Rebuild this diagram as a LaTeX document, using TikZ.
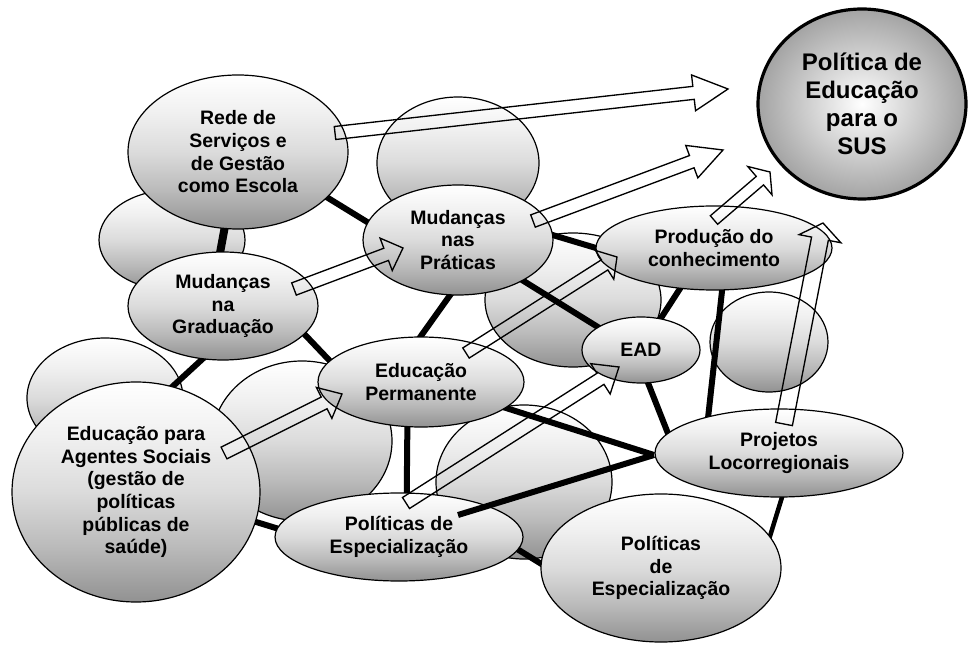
\documentclass[tikz,border=0pt]{standalone}
\usepackage{fontspec}
\setmainfont{Liberation Sans}
\usetikzlibrary{shapes.geometric,calc}
\pgfdeclarelayer{bgl}
\pgfdeclarelayer{lines}
\pgfdeclarelayer{fg}
\pgfsetlayers{bgl,lines,main,fg}
\pgfdeclareverticalshading{bubshade}{100bp}{color(0bp)=(black!43); color(25bp)=(black!43);
  color(37.5bp)=(black!27); color(50bp)=(black!14); color(62.5bp)=(black!6);
  color(75bp)=(white); color(100bp)=(white)}
\tikzset{
  bub/.style 2 args={ellipse, draw=black, line width=0.9pt, inner sep=0pt, outer sep=0pt,
    minimum width=#1*1.5pt, minimum height=#2*1.5pt,
    shade, shading=bubshade,
    align=center, font=\bfseries\fontsize{14.6}{17}\selectfont},
  goal/.style={ellipse, draw=black, line width=2.4pt, inner sep=0pt, outer sep=0pt,
    minimum width=208*0.75pt, minimum height=190*0.75pt,
    inner color=white, outer color=black!36,
    align=center, font=\bfseries\fontsize{18}{21}\selectfont},
  link/.style={line width=4.5pt, black, shorten <=-3pt, shorten >=-3pt},
  barr/.style={draw=black, line width=1pt, line join=miter},
}
\newcommand{\blockarrow}[5]{%
  \coordinate (hb) at ($(#2)!#5!(#1)$);
  \draw[barr] ($(#1)!#3!90:(#2)$) -- ($(hb)!#3!-90:(#1)$) -- ($(hb)!#4!-90:(#1)$) -- (#2)
    -- ($(hb)!#4!90:(#1)$) -- ($(hb)!#3!90:(#1)$) -- ($(#1)!#3!-90:(#2)$) -- cycle;}
\begin{document}
\begin{tikzpicture}[x=0.75pt,y=-0.75pt]
\useasboundingbox (0,0) rectangle (971,648);

% background (unlabelled) ellipses
\begin{pgfonlayer}{bgl}
\node[bub={73}{50}] (b1) at (172,240) {};
\node[bub={81}{66}] (b2) at (458,163) {};
\node[bub={88}{67}] (b3) at (573,300) {};
\node[bub={59}{50}] (b4) at (769,342) {};
\node[bub={78}{60}] (b5) at (105,398) {};
\node[bub={90}{80}] (b6) at (302,441) {};
\node[bub={88}{77}] (b7) at (524,482) {};
\end{pgfonlayer}

% labelled ellipses
\node[bub={110}{77}] (rede) at (238,152) {Rede de\\Serviços e\\de Gestão\\como Escola};
\node[bub={95}{54}] (grad) at (223,306) {Mudanças\\na\\Graduação};
\node[bub={95}{55}] (prat) at (458,240) {Mudanças\\nas\\Práticas};
\node[bub={118}{42}] (prod) at (714,248) {Produção do\\conhecimento};
\node[bub={59}{33}] (ead) at (641,350) {EAD};
\node[bub={103}{45}] (perm) at (421,382) {Educação\\Permanente};
\node[bub={124}{110}] (agen) at (136,492) {Educação para\\Agentes Sociais\\(gestão de\\políticas\\públicas de\\saúde)};
\node[bub={124}{44}] (polm) at (399,537) {Políticas de\\Especialização};
\node[bub={124}{44}] (proj) at (779,453) {Projetos\\Locorregionais};
\node[bub={120}{74}] (polb) at (661,568) {Políticas\\de\\Especialização};
\node[goal] (sus) at (862,104) {Política de\\Educação\\para o\\SUS};

\coordinate (jn) at (654,455);
\coordinate (pmx) at (458,515);

% thick connectors
\begin{pgfonlayer}{lines}
\draw[link] (rede.-27) -- (prat.169);
\draw[link, line width=6pt] (rede.-100) -- (grad.93);
\draw[link] (grad.-19) -- (perm.167);
\draw[link] (grad.-111) -- (agen.71);
\draw[link] (prat.-98) -- (perm.91);
\draw[link] (prat.3) -- (prod.180);
\draw[link] (prat.-32) -- (ead.152);
\draw[link] (prod.-130) -- (ead.58);
\draw[link] (prod.-79) -- (proj.153);
\draw[link] (ead.-78) -- (proj.170);
\draw[link, shorten >=0pt] (perm.-17) -- (jn);
\draw[link] (perm.-107) -- (polm.80);
\draw[link] (polm.-6) -- (polb.178);
\draw[link] (agen.-14) -- (polm.176);
\draw[link, line width=3.4pt] (proj.-86) -- (polb.16);
\end{pgfonlayer}

% block arrows
\coordinate (t1) at (335,133); \coordinate (p1) at (728,89);
\coordinate (t2) at (533,221); \coordinate (p2) at (723,150);
\coordinate (t3) at (714,220); \coordinate (p3) at (770,172);
\coordinate (t4) at (784,424); \coordinate (p4) at (823,223);
\coordinate (t5) at (294,289); \coordinate (p5) at (403,248);
\coordinate (t6) at (224,453); \coordinate (p6) at (342,394);
\coordinate (t7) at (466,353); \coordinate (p7) at (617,257);
\coordinate (t8) at (406,503); \coordinate (p8) at (619,367);
\begin{pgfonlayer}{fg}
\draw[line width=4.5pt] (pmx) -- (jn);
\blockarrow{t1}{p1}{4.9pt}{13.5pt}{26pt}
\blockarrow{t2}{p2}{4.9pt}{13pt}{25pt}
\blockarrow{t3}{p3}{4.2pt}{14pt}{10pt}
\blockarrow{t4}{p4}{6.4pt}{16pt}{12pt}
\blockarrow{t5}{p5}{4.9pt}{13pt}{13.5pt}
\blockarrow{t6}{p6}{4.9pt}{13pt}{15pt}
\blockarrow{t7}{p7}{4.5pt}{12.8pt}{11pt}
\blockarrow{t8}{p8}{4.9pt}{13.5pt}{16.5pt}
\end{pgfonlayer}
\end{tikzpicture}
\end{document}
